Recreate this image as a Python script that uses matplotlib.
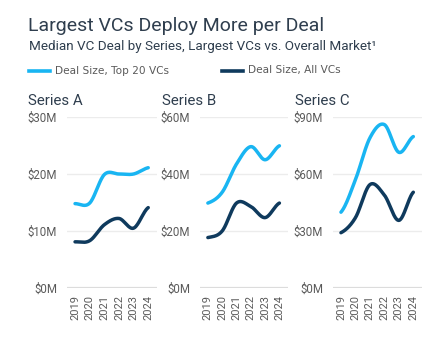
import numpy as np
import matplotlib
matplotlib.use("Agg")
import matplotlib.pyplot as plt
from matplotlib.lines import Line2D

years = [2019, 2020, 2021, 2022, 2023, 2024]
series_names = ["Series A", "Series B", "Series C"]
top20_a = [14.8, 14.9, 19.9, 20.0, 20.0, 21.1]
all_a = [8.1, 8.3, 11.1, 12.2, 10.5, 14.1]
top20_b = [29.8, 33.6, 43.5, 49.6, 45.0, 49.9]
all_b = [17.7, 20.0, 29.8, 28.6, 24.7, 29.8]
top20_c = [39.9, 57.0, 79.0, 86.0, 71.4, 79.7]
all_c = [29.1, 37.0, 54.4, 48.9, 35.6, 50.4]
y_ticks = [[0, 10, 20, 30], [0, 20, 40, 60], [0, 30, 60, 90]]
top20 = [top20_a, top20_b, top20_c]
allvc = [all_a, all_b, all_c]

LIGHT = "#19b5f2"
DARK = "#0f3a5d"
TXT = "#2f3e4e"
GRAY = "#5a5a5a"


def catmull(x, y, n=30):
    x = np.asarray(x, float); y = np.asarray(y, float)
    m = len(x)
    h = np.diff(x)
    t = np.zeros(m)
    for i in range(1, m - 1):
        t[i] = (y[i + 1] - y[i - 1]) / (x[i + 1] - x[i - 1])
    t[0] = (y[1] - y[0]) / h[0] / 2
    t[-1] = (y[-1] - y[-2]) / h[-1] / 2
    xs, ys = [], []
    for i in range(m - 1):
        u = np.linspace(0, 1, n)
        h00 = 2 * u**3 - 3 * u**2 + 1
        h10 = u**3 - 2 * u**2 + u
        h01 = -2 * u**3 + 3 * u**2
        h11 = u**3 - u**2
        xs.append(x[i] + u * h[i])
        ys.append(h00 * y[i] + h10 * h[i] * t[i] + h01 * y[i + 1] + h11 * h[i] * t[i + 1])
    return np.concatenate(xs), np.concatenate(ys)


W, H = 442, 343
plt.rcParams['font.family'] = ['Roboto', 'DejaVu Sans']
fig = plt.figure(figsize=(W / 100, H / 100), dpi=100)

fig.text(28 / W, 1 - 31 / H, "Largest VCs Deploy More per Deal", fontsize=14.0,
         color=TXT, va="baseline", ha="left")
fig.text(29 / W, 1 - 50 / H, "Median VC Deal by Series, Largest VCs vs. Overall Market\u00b9",
         fontsize=9.7, color=TXT, va="baseline", ha="left")

# legend
for x0, col, lab in [(29, LIGHT, "Deal Size, Top 20 VCs"), (222, DARK, "Deal Size, All VCs")]:
    fig.add_artist(Line2D([x0 / W, (x0 + 21) / W], [1 - 70.5 / H] * 2, color=col, lw=2.6,
                          transform=fig.transFigure))
    fig.text((x0 + 26) / W, 1 - 70.5 / H, lab, fontsize=7.6, color=GRAY, va="center",
             ha="left", family=['DejaVu Sans'])

lefts = [67, 200, 333]
widths = [90, 88, 89]
title_x = [28, 162, 295]
for k in range(3):
    ax = fig.add_axes([lefts[k] / W, 1 - 288 / H, widths[k] / W, (288 - 117) / H])
    ymax = y_ticks[k][-1]
    ax.set_ylim(0, ymax)
    ax.set_xlim(2018.45, 2024.6)
    for yt in y_ticks[k][1:]:
        ax.axhline(yt, color="#ececec", lw=1.0, zorder=0)
    ax.axhline(0, color="#dcdcdc", lw=1.6, zorder=0)
    for vals, col in [(top20[k], LIGHT), (allvc[k], DARK)]:
        xs, ys = catmull(years, vals)
        ax.plot(xs, ys, color=col, lw=2.5, solid_capstyle="round", clip_on=False)
    for s in ax.spines.values():
        s.set_visible(False)
    ax.set_yticks(y_ticks[k])
    ax.set_yticklabels([f"${v}M" for v in y_ticks[k]], fontsize=8.3, color=GRAY)
    ax.set_xticks(years)
    ax.set_xticklabels([str(y) for y in years], rotation=90, fontsize=8, color=GRAY)
    ax.tick_params(length=0, axis="y", pad=7)
    ax.tick_params(length=0, axis="x", pad=5)
    fig.text(title_x[k] / W, 1 - 101 / H, series_names[k], fontsize=10.8, color=TXT,
             va="center", ha="left")

fig.savefig("out.png", dpi=100, facecolor="white")
